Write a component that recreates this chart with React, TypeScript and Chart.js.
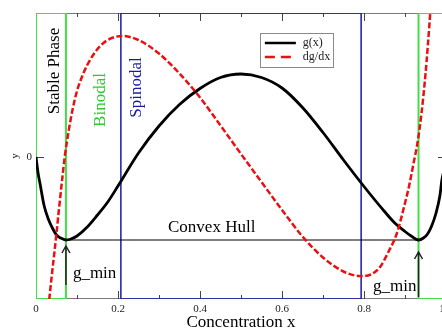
import React, { useEffect, useRef } from 'react';
import { Chart, registerables } from 'chart.js';

Chart.register(...registerables);

// ---- data ----
const G_X = [0, 0.005, 0.01, 0.02, 0.03, 0.04, 0.05, 0.06, 0.073, 0.085, 0.1, 0.125, 0.15, 0.175, 0.2, 0.25, 0.3, 0.35, 0.4, 0.45, 0.5,
  0.55, 0.6, 0.65, 0.7, 0.75, 0.8, 0.85, 0.875, 0.9, 0.915, 0.933, 0.945, 0.955, 0.965, 0.975, 0.985, 0.99, 0.995, 1];
const G_Y = [0, -0.016, -0.027, -0.049, -0.062, -0.071, -0.078, -0.081, -0.083, -0.082, -0.079, -0.070, -0.058, -0.045, -0.029, 0.004, 0.031, 0.0525, 0.0685, 0.0795, 0.083,
  0.0795, 0.069, 0.0495, 0.0245, -0.003, -0.0295, -0.0545, -0.066, -0.0745, -0.079, -0.083, -0.081, -0.077, -0.069, -0.057, -0.039, -0.023, -0.013, 0];

const DG_X = [0.03, 0.035, 0.04, 0.045, 0.05, 0.055, 0.06, 0.065, 0.07, 0.08, 0.09, 0.1, 0.11, 0.125, 0.15, 0.175, 0.21, 0.25, 0.3, 0.35, 0.4, 0.45, 0.5,
  0.55, 0.6, 0.65, 0.7, 0.75, 0.79, 0.81, 0.825, 0.84, 0.86, 0.88, 0.9, 0.91, 0.92, 0.93, 0.94, 0.95, 0.96, 0.965, 0.97];
const DG_Y = [-0.151, -0.132, -0.113, -0.095, -0.076, -0.056, -0.037, -0.018, 0.0, 0.027, 0.049, 0.066, 0.078, 0.092, 0.108, 0.117, 0.121, 0.117, 0.1035, 0.0835, 0.0595, 0.0315, 0.003,
  -0.025, -0.053, -0.0795, -0.1005, -0.1145, -0.119, -0.1185, -0.1155, -0.1095, -0.0945, -0.0765, -0.046, -0.029, -0.008, 0.013, 0.043, 0.083, 0.135, 0.165, 0.19];

const BINODAL = [0.073, 0.933];
const SPINODAL = [0.207, 0.793];
const G_MIN = -0.083;

const X_MIN = 0;
const X_MAX = 1;
const Y_MIN = -0.142;
const Y_MAX = 0.144;
const X_MAJOR_TICKS = [0, 0.2, 0.4, 0.6, 0.8, 1];
const X_MINOR_TICKS = [0.1, 0.3, 0.5, 0.7, 0.9];
const Y_TICKS = [0];

const SERIES_LABELS = ['g(x)', 'dg/dx'];

// ---- annotation layout (data coordinates) ----
const TEXT_LABELS = [
  { text: 'Stable Phase', x: 0.057, y: 0.086, rotate: true, color: '#000000' },
  { text: 'Binodal', x: 0.168, y: 0.057, rotate: true, color: '#2ccc2c' },
  { text: 'Spinodal', x: 0.256, y: 0.0695, rotate: true, color: '#1a1aa6' },
  { text: 'Convex Hull', x: 0.322, y: -0.075, rotate: false, color: '#000000' },
  { text: 'g_min', x: 0.09, y: -0.121, rotate: false, color: '#000000' },
  { text: 'g_min', x: 0.822, y: -0.1335, rotate: false, color: '#000000' },
];
const ARROWS = [
  { x: BINODAL[0], tip: -0.089, tail: -0.128 },
  { x: BINODAL[1], tip: -0.095, tail: -0.140 },
];
const LEGEND_AT = { x: 0.546, y: 0.124 };

const FONT = "'Liberation Serif', 'Times New Roman', serif";
const GREEN = '#45dd45';
const BLUE = '#1a1aa6';
const RED = '#e81010';
const DASH = [6, 2.5];
const LEGEND_DASH = [10, 6];

const rect = (x0: number, x1: number) => [
  { x: x0, y: Y_MIN }, { x: x0, y: Y_MAX }, { x: x1, y: Y_MAX }, { x: x1, y: Y_MIN }, { x: x0, y: Y_MIN },
];

const overlayPlugin = {
  id: 'overlay',
  beforeDatasetsDraw(chart: any) {
    const { ctx, chartArea, scales } = chart;
    const { left, right, top, bottom } = chartArea;
    const xs = scales.x;
    const ys = scales.y;
    ctx.save();
    ctx.strokeStyle = '#7a7a7a';
    ctx.lineWidth = 1;
    ctx.strokeRect(left + 0.5, top + 0.5, right - left - 1, bottom - top - 1);
    ctx.strokeStyle = '#444';
    ctx.beginPath();
    const xt = (vals: number[], len: number) => {
      for (const v of vals) {
        const px = Math.round(xs.getPixelForValue(v)) + 0.5;
        ctx.moveTo(px, bottom);
        ctx.lineTo(px, bottom - len);
        ctx.moveTo(px, top);
        ctx.lineTo(px, top + len);
      }
    };
    xt(X_MAJOR_TICKS, 8);
    xt(X_MINOR_TICKS, 4);
    for (const v of Y_TICKS) {
      const py = Math.round(ys.getPixelForValue(v)) + 0.5;
      ctx.moveTo(left, py);
      ctx.lineTo(left + 8, py);
      ctx.moveTo(right, py);
      ctx.lineTo(right - 8, py);
    }
    ctx.stroke();
    ctx.restore();
  },
  afterDatasetsDraw(chart: any) {
    const { ctx, scales } = chart;
    const xs = scales.x;
    const ys = scales.y;
    ctx.save();
    // texts
    ctx.font = `17px ${FONT}`;
    for (const t of TEXT_LABELS) {
      const px = xs.getPixelForValue(t.x);
      const py = ys.getPixelForValue(t.y);
      ctx.fillStyle = t.color;
      ctx.textBaseline = 'alphabetic';
      if (t.rotate) {
        ctx.save();
        ctx.translate(px, py);
        ctx.rotate(-Math.PI / 2);
        ctx.textAlign = 'center';
        ctx.fillText(t.text, 0, 0);
        ctx.restore();
      } else {
        ctx.textAlign = 'left';
        ctx.fillText(t.text, px, py);
      }
    }
    // arrows
    ctx.strokeStyle = '#222';
    ctx.lineWidth = 1.5;
    for (const a of ARROWS) {
      const px = xs.getPixelForValue(a.x);
      const tip = ys.getPixelForValue(a.tip);
      const tail = ys.getPixelForValue(a.tail);
      ctx.beginPath();
      ctx.moveTo(px, tail);
      ctx.lineTo(px, tip);
      ctx.moveTo(px - 4, tip + 7);
      ctx.lineTo(px, tip);
      ctx.lineTo(px + 4, tip + 7);
      ctx.stroke();
    }
    // legend
    const lx = xs.getPixelForValue(LEGEND_AT.x);
    const ly = ys.getPixelForValue(LEGEND_AT.y);
    ctx.fillStyle = '#fff';
    ctx.fillRect(lx, ly, 73, 34);
    ctx.strokeStyle = '#8a8a8a';
    ctx.lineWidth = 1;
    ctx.strokeRect(Math.round(lx) + 0.5, Math.round(ly) + 0.5, 73, 34);
    const ds = chart.data.datasets;
    const rows = [ds[1], ds[0]];
    rows.forEach((d: any, i: number) => {
      const yy = ly + 10 + i * 14;
      ctx.beginPath();
      ctx.strokeStyle = d.borderColor;
      ctx.lineWidth = 2.5;
      ctx.setLineDash(d.borderDash ? LEGEND_DASH : []);
      ctx.moveTo(lx + 5, yy);
      ctx.lineTo(lx + 36, yy);
      ctx.stroke();
      ctx.setLineDash([]);
      ctx.fillStyle = '#222';
      ctx.font = `12px ${FONT}`;
      ctx.textAlign = 'left';
      ctx.textBaseline = 'middle';
      ctx.fillText(d.label, lx + 43, yy);
    });
    ctx.restore();
  },
};

export default function App() {
  const ref = useRef<HTMLCanvasElement>(null);
  useEffect(() => {
    const canvas = ref.current!;
    const lineDs = (data: any[], color: string, width: number, extra: any = {}) => ({
      data,
      borderColor: color,
      backgroundColor: color,
      borderWidth: width,
      pointRadius: 0,
      fill: false,
      tension: 0,
      ...extra,
    });
    const chart = new Chart(canvas, {
      type: 'line',
      data: {
        datasets: [
          lineDs(DG_X.map((x, i) => ({ x, y: DG_Y[i] })), RED, 2.5, { label: SERIES_LABELS[1], borderDash: DASH, cubicInterpolationMode: 'monotone' }),
          lineDs(G_X.map((x, i) => ({ x, y: G_Y[i] })), '#000000', 2.8, { label: SERIES_LABELS[0], cubicInterpolationMode: 'monotone' }),
          lineDs([{ x: BINODAL[0], y: G_MIN }, { x: BINODAL[1], y: G_MIN }], '#000000', 1.2, { label: 'hull' }),
          lineDs(rect(SPINODAL[0], SPINODAL[1]), BLUE, 1.5, { label: 'spinodal' }),
          lineDs(rect(X_MIN, BINODAL[0]), GREEN, 2, { label: 'stable left' }),
          lineDs(rect(BINODAL[1], X_MAX), GREEN, 2, { label: 'stable right' }),
        ],
      },
      options: {
        animation: false,
        responsive: false,
        devicePixelRatio: 1,
        parsing: true,
        layout: { padding: { top: 13, right: 14, left: 0, bottom: 0 } },
        plugins: { legend: { display: false }, tooltip: { enabled: false } },
        scales: {
          x: {
            type: 'linear',
            min: X_MIN,
            max: X_MAX,
            afterBuildTicks: (s: any) => { s.ticks = X_MAJOR_TICKS.map((v) => ({ value: v })); },
            afterFit: (s: any) => { s.height = 30; },
            grid: { display: false, drawTicks: false },
            border: { display: false },
            ticks: { padding: 4, autoSkip: false, maxRotation: 0, color: '#222', font: { family: FONT, size: 11 } },
            title: { display: true, text: 'Concentration x', color: '#000', font: { family: FONT, size: 17, lineHeight: 1 }, padding: { top: 0, bottom: -2 } },
          },
          y: {
            type: 'linear',
            min: Y_MIN,
            max: Y_MAX,
            afterBuildTicks: (s: any) => { s.ticks = Y_TICKS.map((v) => ({ value: v })); },
            afterFit: (s: any) => { s.width = 36; },
            grid: { display: false, drawTicks: false },
            border: { display: false },
            ticks: { padding: 4, color: '#222', font: { family: FONT, size: 11 }, callback: (v: any) => String(v) },
            title: { display: true, text: 'y', color: '#222', font: { family: FONT, size: 11, lineHeight: 1.2 }, padding: { top: 9, bottom: 0 } },
          },
        },
      },
      plugins: [overlayPlugin],
    } as any);
    return () => chart.destroy();
  }, []);
  return (
    <div style={{ position: 'absolute', left: 0, top: 0, width: 442, height: 329, overflow: 'hidden', background: '#fff' }}>
      <canvas ref={ref} width={460} height={329} style={{ display: 'block', width: 460, height: 329 }} />
    </div>
  );
}
